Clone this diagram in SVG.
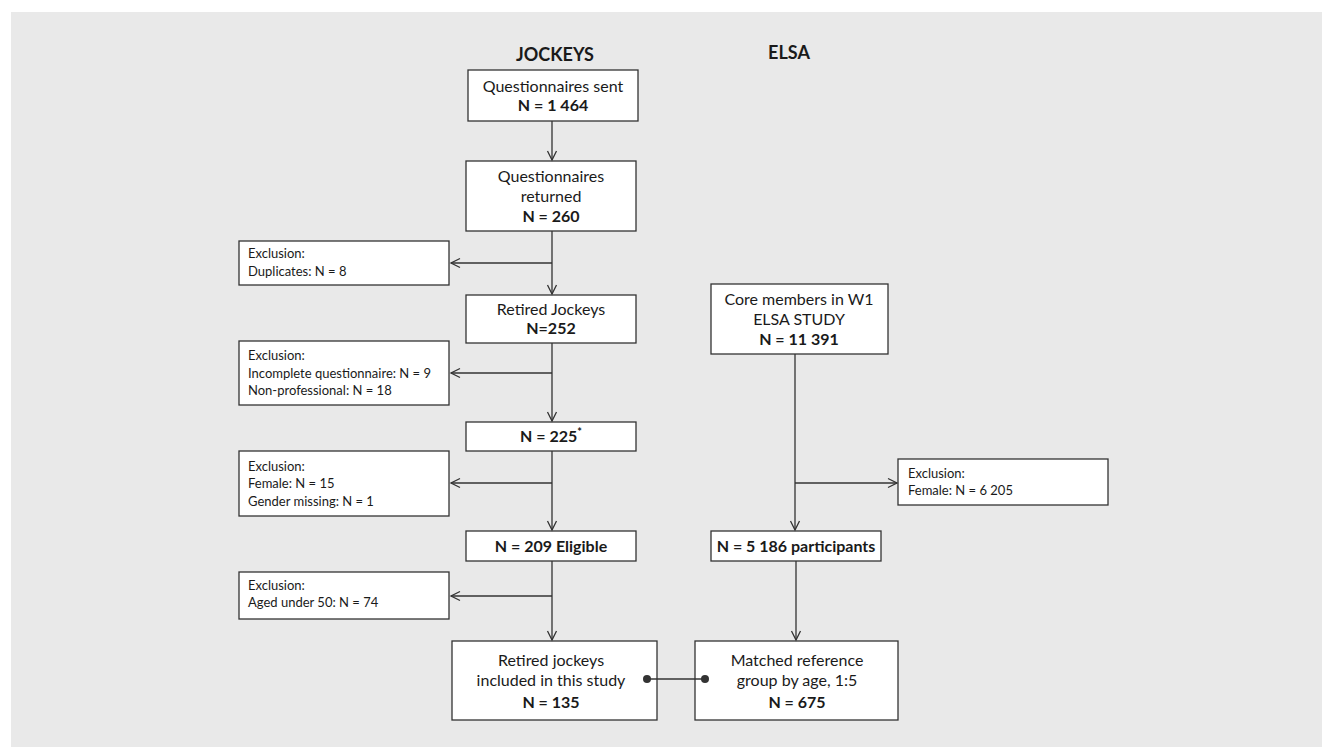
<svg xmlns="http://www.w3.org/2000/svg" width="1322" height="747" viewBox="0 0 1322 747">
<defs>
<style>
.bg{fill:#e9e9e9}
.box{fill:#fff;stroke:#333;stroke-width:1.3}
.ln{fill:none;stroke:#333;stroke-width:1.3}
text{font-family:Lato,"Liberation Sans",sans-serif;fill:#1a1a1a}
.m{font-size:16px;text-anchor:middle}
.b{font-weight:bold}
.h{font-size:18px;font-weight:bold;text-anchor:middle}
.s{font-size:13px}
</style>
<marker id="ar" markerUnits="userSpaceOnUse" markerWidth="12" markerHeight="12" viewBox="-10 -6 12 12" refX="0" refY="0" orient="auto">
<path d="M-9,-4.5 L0,0 L-9,4.5" fill="none" stroke="#333" stroke-width="1.3"/>
</marker>
</defs>
<rect class="bg" x="11" y="12" width="1311" height="735"/>
<text class="h" x="555" y="61">JOCKEYS</text>
<text class="h" x="789" y="59">ELSA</text>
<g id="sent">
<rect class="box" x="468" y="70" width="170" height="51"/>
<text class="m" x="553" y="92">Questionnaires sent</text>
<text class="m b" x="553" y="111">N = 1 464</text>
</g>
<g id="returned">
<rect class="box" x="466" y="161" width="170" height="70"/>
<text class="m" x="551" y="182">Questionnaires</text>
<text class="m" x="551" y="202">returned</text>
<text class="m b" x="551" y="222">N = 260</text>
</g>
<g id="excl1">
<rect class="box" x="239" y="241" width="210" height="44"/>
<text class="s" x="248" y="258">Exclusion:</text>
<text class="s" x="248" y="276">Duplicates: N = 8</text>
</g>
<g id="retired">
<rect class="box" x="466" y="295" width="170" height="48"/>
<text class="m" x="551" y="315">Retired Jockeys</text>
<text class="m b" x="551" y="334">N=252</text>
</g>
<g id="excl2">
<rect class="box" x="239" y="341" width="210" height="64"/>
<text class="s" x="248" y="360">Exclusion:</text>
<text class="s" x="248" y="378">Incomplete questionnaire: N = 9</text>
<text class="s" x="248" y="395">Non-professional: N = 18</text>
</g>
<g id="n225">
<rect class="box" x="466" y="422" width="170" height="29"/>
<text class="m b" x="551" y="442">N = 225<tspan font-size="11" dy="-6">*</tspan></text>
</g>
<g id="excl3">
<rect class="box" x="239" y="451" width="210" height="65"/>
<text class="s" x="248" y="471">Exclusion:</text>
<text class="s" x="248" y="488">Female: N = 15</text>
<text class="s" x="248" y="506">Gender missing: N = 1</text>
</g>
<g id="eligible">
<rect class="box" x="466" y="531" width="170" height="30"/>
<text class="m b" x="551" y="552">N = 209 Eligible</text>
</g>
<g id="excl4">
<rect class="box" x="239" y="572" width="210" height="47"/>
<text class="s" x="248" y="590">Exclusion:</text>
<text class="s" x="248" y="607">Aged under 50: N = 74</text>
</g>
<g id="included">
<rect class="box" x="452" y="641" width="205" height="79"/>
<text class="m" x="551" y="666">Retired jockeys</text>
<text class="m" x="551" y="686">included in this study</text>
<text class="m b" x="551" y="708">N = 135</text>
</g>
<g id="core">
<rect class="box" x="711" y="284" width="177" height="70"/>
<text class="m" x="799" y="305">Core members in W1</text>
<text class="m" x="799" y="325">ELSA STUDY</text>
<text class="m b" x="799" y="345">N = 11 391</text>
</g>
<g id="excl5">
<rect class="box" x="898" y="459" width="210" height="46"/>
<text class="s" x="908" y="478">Exclusion:</text>
<text class="s" x="908" y="495">Female: N = 6 205</text>
</g>
<g id="participants">
<rect class="box" x="711" y="531" width="170" height="30"/>
<text class="m b" x="796" y="552">N = 5 186 participants</text>
</g>
<g id="matched">
<rect class="box" x="695" y="641" width="203" height="79"/>
<text class="m" x="797" y="666">Matched reference</text>
<text class="m" x="797" y="686">group by age, 1:5</text>
<text class="m b" x="797" y="708">N = 675</text>
</g>
<g id="connectors">
<line class="ln" x1="552" y1="121" x2="552" y2="160" marker-end="url(#ar)"/>
<line class="ln" x1="552" y1="231" x2="552" y2="294" marker-end="url(#ar)"/>
<line class="ln" x1="552" y1="263" x2="451" y2="263" marker-end="url(#ar)"/>
<line class="ln" x1="552" y1="343" x2="552" y2="421" marker-end="url(#ar)"/>
<line class="ln" x1="552" y1="373" x2="451" y2="373" marker-end="url(#ar)"/>
<line class="ln" x1="552" y1="451" x2="552" y2="530" marker-end="url(#ar)"/>
<line class="ln" x1="552" y1="483" x2="451" y2="483" marker-end="url(#ar)"/>
<line class="ln" x1="552" y1="561" x2="552" y2="640" marker-end="url(#ar)"/>
<line class="ln" x1="552" y1="596" x2="451" y2="596" marker-end="url(#ar)"/>
<line class="ln" x1="795" y1="354" x2="795" y2="530" marker-end="url(#ar)"/>
<line class="ln" x1="795" y1="483" x2="897" y2="483" marker-end="url(#ar)"/>
<line class="ln" x1="796" y1="561" x2="796" y2="640" marker-end="url(#ar)"/>
<line class="ln" x1="647" y1="679" x2="705" y2="679"/>
<circle cx="647" cy="679" r="4" fill="#333"/>
<circle cx="705" cy="679" r="4" fill="#333"/>
</g>
</svg>
